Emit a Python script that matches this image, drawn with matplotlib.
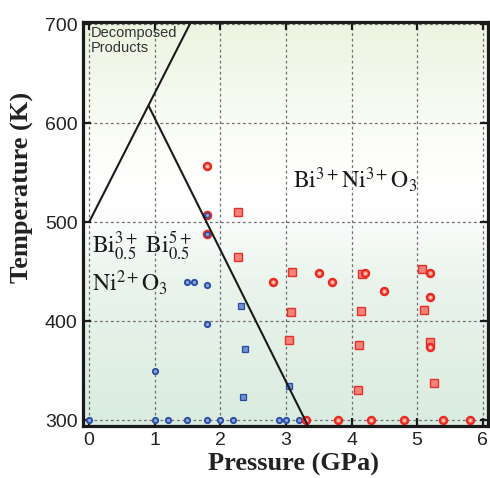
import numpy as np
import matplotlib
matplotlib.use("Agg")
import matplotlib.pyplot as plt
from matplotlib.colors import LinearSegmentedColormap

plt.rcParams['mathtext.fontset'] = 'stix'
plt.rcParams['font.family'] = ['Liberation Sans', 'DejaVu Sans']

# ---------------- data ----------------
blue_circ_x = [0, 1.0, 1.2, 1.5, 1.8, 2.0, 2.2, 2.9, 3.0, 3.2, 1.0, 1.5, 1.6, 1.8, 1.8]
blue_circ_y = [300, 300, 300, 300, 300, 300, 300, 300, 300, 300, 350, 440, 440, 437, 397]

mixed_x = [1.8, 1.8]
mixed_y = [507, 488]

blue_sq_x = [2.32, 2.37, 2.35, 3.04]
blue_sq_y = [415, 372, 323, 335]

red_circ_x = [1.8, 2.8, 3.51, 3.71, 4.21, 4.5, 5.2, 5.2, 5.2, 3.3, 3.8, 4.3, 4.8, 5.4, 5.8]
red_circ_y = [557, 440, 449, 440, 449, 431, 449, 425, 374, 300, 300, 300, 300, 300, 300]

red_sq_x = [2.27, 2.27, 3.1, 3.08, 3.05, 4.16, 4.14, 4.12, 4.1, 5.07, 5.11, 5.2, 5.25]
red_sq_y = [510, 465, 450, 409, 381, 448, 410, 376, 331, 453, 411, 379, 338]

boundary1_x = [0, 1.55]
boundary1_y = [500, 702]
boundary2_x = [0.905, 3.34]
boundary2_y = [618, 294]

x_ticks = [0, 1, 2, 3, 4, 5, 6]
y_ticks = [300, 400, 500, 600, 700]
xlim = (-0.092, 6.08)
ylim = (294.2, 702.3)

# ---------------- figure ----------------
fig = plt.figure(figsize=(4.9, 4.78), dpi=100)
ax = fig.add_axes([83/490, 52/478, 405/490, 404/478])

# gradient background
stops = [(0.0, (0.855, 0.925, 0.875)),
         (0.35, (0.915, 0.955, 0.925)),
         (0.55, (1.0, 1.0, 1.0)),
         (0.65, (0.995, 0.998, 0.99)),
         (1.0, (0.925, 0.957, 0.878))]
cmap = LinearSegmentedColormap.from_list('bg', stops)
grad = np.linspace(0, 1, 256).reshape(-1, 1)
ax.imshow(grad, cmap=cmap, origin='lower', aspect='auto',
          extent=[xlim[0], xlim[1], ylim[0], ylim[1]], zorder=0, interpolation='bilinear')

# grid
for xv in x_ticks:
    ax.axvline(xv, color='#707070', lw=0.9, dashes=(2.2, 2.2), zorder=1)
for yv in y_ticks:
    ax.axhline(yv, color='#707070', lw=0.9, dashes=(2.2, 2.2), zorder=1)

# markers
ax.plot(blue_circ_x, blue_circ_y, 'o', ms=3.8, mew=1.4, mec='#2c4fa6', mfc='#8ea6de', zorder=3)
ax.plot(mixed_x, mixed_y, 'o', ms=5.6, mew=1.3, mec='#ea2a22', mfc='#2c4fa6', zorder=3)
ax.plot(mixed_x, mixed_y, 'o', ms=2.2, mew=0, mfc='#8ea6de', zorder=3)
ax.plot(blue_sq_x, blue_sq_y, 's', ms=4.2, mew=0.9, mec='#2a4aa2', mfc='#6f8fd2', zorder=3)
ax.plot(red_sq_x, red_sq_y, 's', ms=5.6, mew=1.0, mec='#e8302a', mfc='#f5837a', zorder=3)
ax.plot(red_circ_x, red_circ_y, 'o', ms=5.2, mew=1.6, mec='#ea2a22', mfc='#f8786a', zorder=3)
ax.plot(red_circ_x, red_circ_y, 'o', ms=2.0, mew=0, mfc='#ffd2c8', zorder=3)

# phase boundaries
ax.plot(boundary1_x, boundary1_y, color='#1a1a1a', lw=1.5, zorder=4, solid_capstyle='butt')
ax.plot(boundary2_x, boundary2_y, color='#1a1a1a', lw=1.5, zorder=4, solid_capstyle='butt')

ax.set_xlim(*xlim)
ax.set_ylim(*ylim)
ax.set_xticks(x_ticks)
ax.set_yticks(y_ticks)
ax.tick_params(direction='in', length=6, width=1.6, color='#1a1a1a',
               top=True, right=True, labelsize=14, labelcolor='#222222', pad=4)
for s in ax.spines.values():
    s.set_linewidth(2.3)
    s.set_color('#1a1a1a')
    s.set_zorder(5)

# labels
fig.text(293.5/490, 1.5/478, 'Pressure (GPa)', family=['Liberation Serif'],
         fontweight='bold', fontsize=19, ha='center', va='bottom', color='#222222')
fig.text(29/490, 1 - 187/478, 'Temperature (K)', family=['Liberation Serif'],
         fontweight='bold', fontsize=19, ha='center', va='baseline', rotation=90,
         rotation_mode='anchor', color='#222222')

# annotations
ax.text(0.02, 684, 'Decomposed\nProducts', fontsize=10.5, color='#333333',
        ha='left', va='center', linespacing=1.1, zorder=6)
ax.text(3.11, 535, r'$\mathrm{Bi}^{3+}\mathrm{Ni}^{3+}\mathrm{O}_3$', fontsize=17,
        ha='left', va='baseline', color='#1a1a1a', zorder=6)
ax.text(0.05, 469, r'$\mathrm{Bi}_{0.5}^{3+}\ \mathrm{Bi}_{0.5}^{5+}$', fontsize=17,
        ha='left', va='baseline', color='#1a1a1a', zorder=6)
ax.text(0.05, 431, r'$\mathrm{Ni}^{2+}\mathrm{O}_3$', fontsize=17,
        ha='left', va='baseline', color='#1a1a1a', zorder=6)

fig.savefig('out.png', dpi=100)
